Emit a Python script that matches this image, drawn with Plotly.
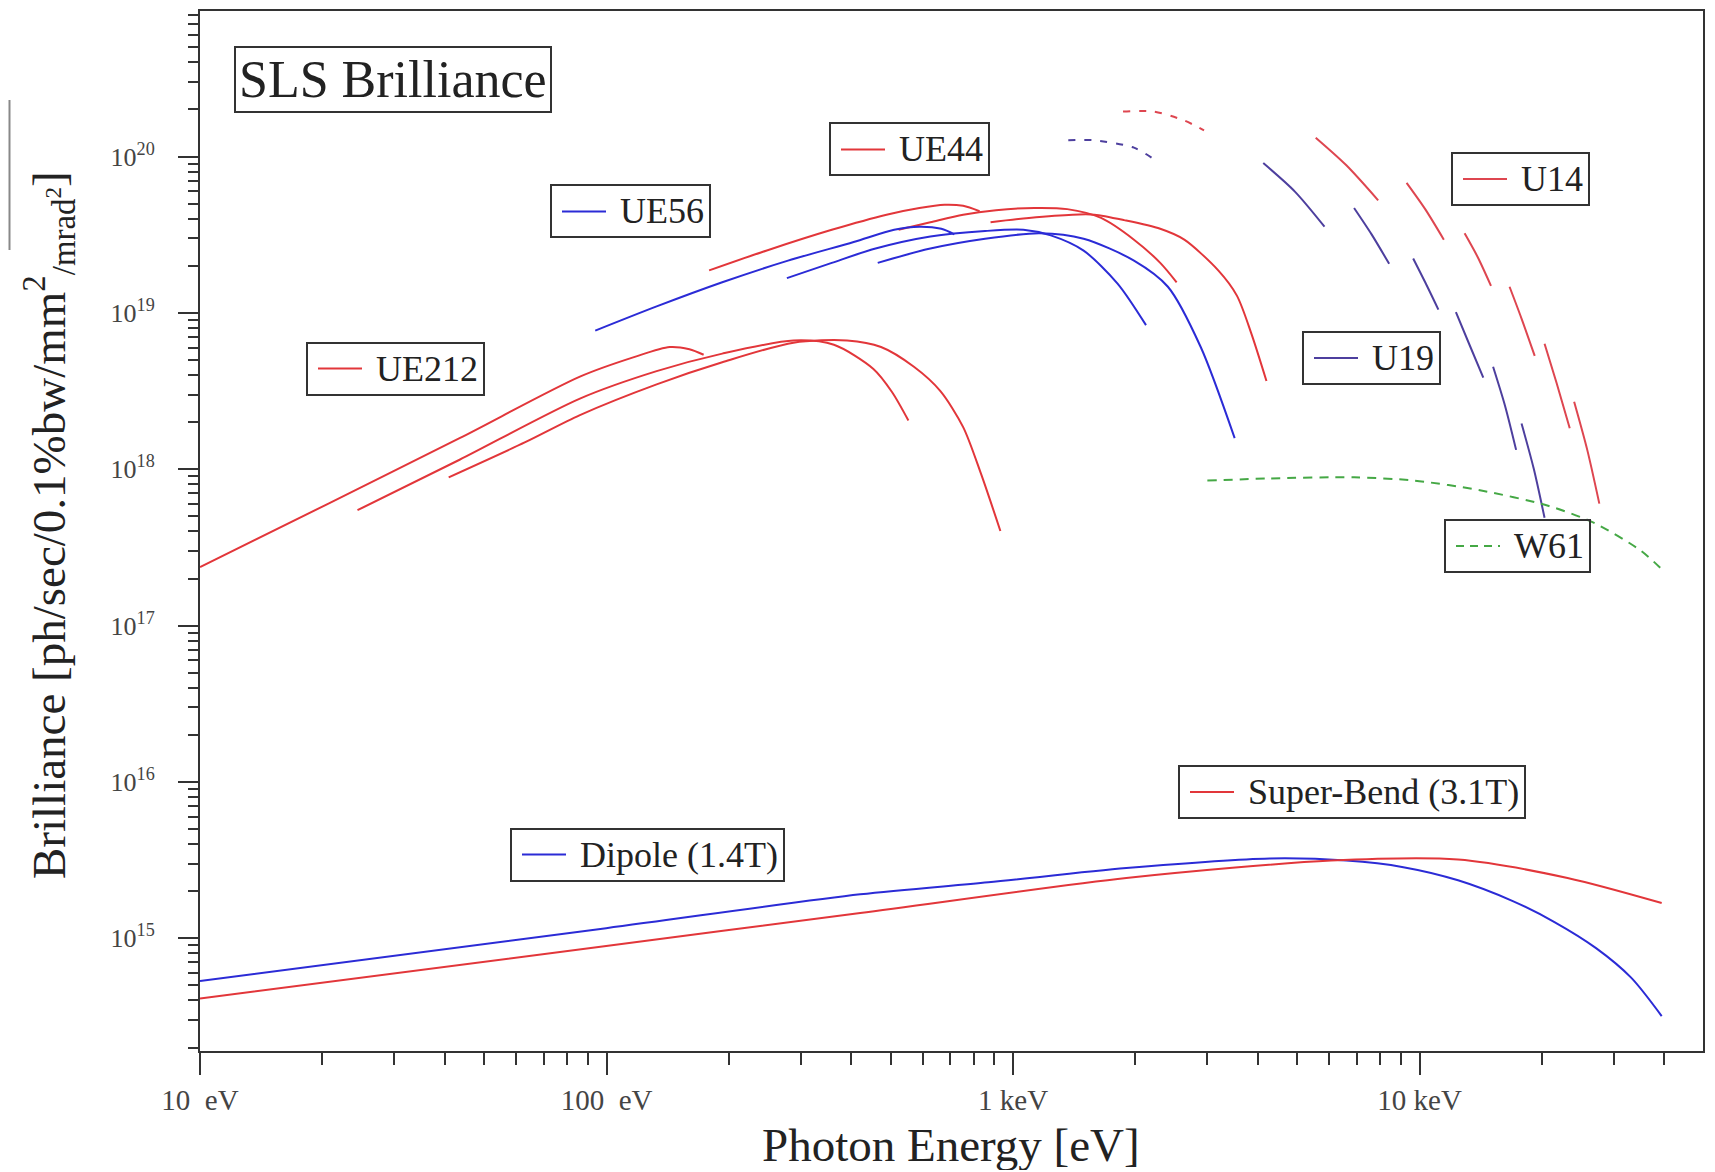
import plotly.graph_objects as go

# ---------------- data: photon energy [eV], brilliance ----------------
# UE212 harmonics (red)
ue212_h1_e = [10, 20.7, 43.5, 86.0, 117.3, 143.0, 159.9, 173.3]
ue212_h1_b = [2.37e17, 6.03e17, 1.58e18, 3.91e18, 5.23e18, 6.05e18, 5.85e18, 5.40e18]
ue212_h3_e = [24.4, 43.5, 86.0, 132.8, 192.6, 288.3, 362.5, 453.3, 503.6, 552.7]
ue212_h3_b = [5.47e17, 1.15e18, 2.83e18, 4.24e18, 5.49e18, 6.66e18, 6.25e18, 4.38e18, 3.12e18, 2.05e18]
ue212_h5_e = [40.9, 63.1, 86.0, 132.8, 192.6, 288.3, 390.6, 473.3, 570.2, 661.8, 753.7, 832.4, 930.6]
ue212_h5_b = [8.88e17, 1.49e18, 2.22e18, 3.49e18, 4.83e18, 6.45e18, 6.66e18, 6.05e18, 4.52e18, 3.17e18, 1.86e18, 9.47e17, 4.03e17]

# UE56 harmonics (blue)
ue56_h1_e = [93.8, 132.8, 192.6, 279.5, 405.4, 509.9, 588.2, 665.9, 717.1]
ue56_h1_b = [7.70e18, 1.10e19, 1.57e19, 2.16e19, 2.84e19, 3.40e19, 3.56e19, 3.45e19, 3.18e19]
ue56_h3_e = [277.7, 358.1, 458.9, 625.9, 853.3, 1060, 1238, 1491, 1807, 2123]
ue56_h3_b = [1.67e19, 2.09e19, 2.58e19, 3.08e19, 3.34e19, 3.40e19, 3.13e19, 2.50e19, 1.54e19, 8.35e18]
ue56_h5_e = [464.6, 625.9, 853.3, 1163, 1491, 1983, 2403, 2894, 3508]
ue56_h5_b = [2.09e19, 2.58e19, 2.98e19, 3.23e19, 2.98e19, 2.16e19, 1.47e19, 6.05e18, 1.58e18]

# UE44 harmonics (red)
ue44_h1_e = [178.8, 246.9, 358.1, 488.3, 588.2, 678.4, 753.7, 827.2]
ue44_h1_b = [1.87e19, 2.50e19, 3.40e19, 4.25e19, 4.69e19, 4.92e19, 4.84e19, 4.47e19]
ue44_h3_e = [522.7, 625.9, 753.7, 907.8, 1128, 1359, 1646, 1983, 2301, 2525]
ue44_h3_b = [3.40e19, 3.80e19, 4.25e19, 4.54e19, 4.69e19, 4.61e19, 4.05e19, 2.94e19, 2.09e19, 1.57e19]
ue44_h5_e = [880.1, 1094, 1401, 1586, 1876, 2301, 2637, 3196, 3552, 3850, 4200]
ue44_h5_b = [3.80e19, 4.05e19, 4.25e19, 4.25e19, 3.92e19, 3.45e19, 2.94e19, 1.87e19, 1.29e19, 7.46e18, 3.67e18]

# U14 (red) and U19 (violet) first harmonics, short dashes at the top
u14_h1_e = [1864, 2217, 2637, 2949]
u14_h1_b = [1.94e20, 1.94e20, 1.70e20, 1.47e20]
u19_h1_e = [1367, 1586, 1983, 2190]
u19_h1_b = [1.27e20, 1.27e20, 1.14e20, 9.84e19]

# U14 higher harmonics (one segment each)
u14_seg_e = [[5551, 6603, 7906], [9288, 10320, 11470], [12900, 13900, 14980],
             [16640, 17810, 19190], [20290, 21730, 23400], [23990, 25840, 27670]]
u14_seg_b = [[1.32e20, 8.79e19, 5.25e19], [6.79e19, 4.61e19, 2.94e19], [3.23e19, 2.27e19, 1.49e19],
             [1.47e19, 9.20e18, 5.31e18], [6.35e18, 3.55e18, 1.83e18], [2.70e18, 1.33e18, 6.03e17]]
# U19 higher harmonics
u19_seg_e = [[4124, 4934, 5834], [6898, 7618, 8414], [9641, 10320, 11120],
             [12280, 13230, 14340], [15160, 16230, 17270], [17810, 19080, 20290]]
u19_seg_b = [[9.08e19, 5.97e19, 3.56e19], [4.69e19, 3.18e19, 2.06e19], [2.23e19, 1.57e19, 1.05e19],
             [1.01e19, 6.35e18, 3.85e18], [4.52e18, 2.53e18, 1.33e18], [1.96e18, 1.01e18, 4.89e17]]

# W61 wiggler (green dashed)
w61_e = [3005, 4279, 6898, 9700, 14170, 20700, 26990, 35030, 39900]
w61_b = [8.46e17, 8.73e17, 8.88e17, 8.46e17, 7.31e17, 5.84e17, 4.51e17, 3.01e17, 2.22e17]

# Dipole (1.4T) and Super-Bend (3.1T)
dipole_e = [10, 99.8, 420.7, 869, 1899, 4279, 6603, 9118, 12430, 16950, 21460, 27160, 33130, 39390]
dipole_b = [5.33e14, 1.16e15, 1.91e15, 2.28e15, 2.81e15, 3.24e15, 3.14e15, 2.85e15, 2.35e15, 1.73e15,
            1.27e15, 8.65e14, 5.60e14, 3.18e14]
superbend_e = [10, 99.8, 420.7, 1899, 6054, 12430, 23110, 39390]
superbend_b = [4.12e14, 8.93e14, 1.45e15, 2.43e15, 3.14e15, 3.19e15, 2.43e15, 1.68e15]

x_tickvals = [10, 100, 1000, 10000]
x_ticktext = ["10\u00a0\u00a0eV", "100\u00a0\u00a0eV", "1 keV", "10 keV"]
y_tickvals = [1e15, 1e16, 1e17, 1e18, 1e19, 1e20]
y_ticktext = ["10<sup>15</sup>", "10<sup>16</sup>", "10<sup>17</sup>", "10<sup>18</sup>",
              "10<sup>19</sup>", "10<sup>20</sup>"]

# ---------------- styling ----------------
RED = "#e2363a"
BLUE = "#2b2bd6"
VIOLET = "#4d3f9e"
RED14 = "#de4650"
GREEN = "#45a845"
FONT = "Liberation Serif, Times New Roman, serif"
LW = 2.0

fig = go.Figure()


def add_line(xs, ys, color, dash="solid", width=LW, shape="spline"):
    fig.add_trace(go.Scatter(x=xs, y=ys, mode="lines",
                             line=dict(color=color, width=width, dash=dash, shape=shape, smoothing=0.8),
                             showlegend=False, hoverinfo="skip"))


for e, b in [(ue212_h1_e, ue212_h1_b), (ue212_h3_e, ue212_h3_b), (ue212_h5_e, ue212_h5_b)]:
    add_line(e, b, RED)
for e, b in [(ue44_h1_e, ue44_h1_b), (ue44_h3_e, ue44_h3_b), (ue44_h5_e, ue44_h5_b)]:
    add_line(e, b, RED)
for e, b in [(ue56_h1_e, ue56_h1_b), (ue56_h3_e, ue56_h3_b), (ue56_h5_e, ue56_h5_b)]:
    add_line(e, b, BLUE)

add_line(u14_h1_e, u14_h1_b, RED14, dash="7px,9px")
add_line(u19_h1_e, u19_h1_b, VIOLET, dash="7px,9px")
for e, b in zip(u14_seg_e, u14_seg_b):
    add_line(e, b, RED14)
for e, b in zip(u19_seg_e, u19_seg_b):
    add_line(e, b, VIOLET)

add_line(w61_e, w61_b, GREEN, dash="9px,7px")
add_line(dipole_e, dipole_b, BLUE)
add_line(superbend_e, superbend_b, RED)

# ---------------- layout ----------------
# page pixel positions of the plot frame (the page body adds an 8px margin)
OFF = 8
L, R, T, B = 200, 1703, 11, 1051
W, H = 1715 - OFF - 2, 1172 - OFF - 2
PW, PH = R - L, B - T


def px(xp):
    return (xp - L) / PW


def py(yp):
    return (B - yp) / PH


x_minor = [m * 10.0 ** k for k in range(1, 5) for m in range(2, 10)]
y_minor = [m * 10.0 ** k for k in range(14, 21) for m in range(2, 10)]

axis_common = dict(showline=True, linecolor="#333", linewidth=2, mirror=True,
                   ticks="outside", tickcolor="#333", tickwidth=2,
                   showgrid=False, zeroline=False)

fig.update_xaxes(type="log", range=[1, 4.697], tickmode="array",
                 tickvals=x_tickvals, ticktext=x_ticktext, ticklen=22,
                 ticklabelstandoff=0,
                 tickfont=dict(family=FONT, size=29, color="#444"),
                 minor=dict(tickmode="array", tickvals=x_minor, ticks="outside",
                            ticklen=12, tickcolor="#333", tickwidth=2),
                 **axis_common)
fig.update_yaxes(type="log", range=[14.279, 20.931], tickmode="array",
                 tickvals=y_tickvals, ticktext=y_ticktext, ticklen=20,
                 ticklabelstandoff=18,
                 tickfont=dict(family=FONT, size=26, color="#444"),
                 minor=dict(tickmode="array", tickvals=y_minor, ticks="outside",
                            ticklen=10, tickcolor="#333", tickwidth=2),
                 **axis_common)

annotations = []
shapes = []

NB = "\u00a0"


def legend_box(left, top, bottom, label, color, dash="solid"):
    cy = (top + bottom) / 2
    annotations.append(dict(
        xref="paper", yref="paper", x=px(left), y=py(cy), xanchor="left", yanchor="middle",
        text=NB * 7 + label,
        showarrow=False, font=dict(family=FONT, size=36, color="#222"),
        bordercolor="#333", borderwidth=2, borderpad=5, bgcolor="rgba(255,255,255,0)"))
    shapes.append(dict(type="line", xref="paper", yref="paper",
                       x0=px(left + 12), x1=px(left + 56), y0=py(cy), y1=py(cy),
                       line=dict(color=color, width=2, dash=dash)))


# label boxes (left, top, bottom in page pixels)
legend_box(829, 126, 173, "UE44", RED)
legend_box(550, 188, 235, "UE56", BLUE)
legend_box(306, 345, 392, "UE212", RED)
legend_box(1451, 155, 203, "U14", RED14)
legend_box(1302, 333, 383, "U19", VIOLET)
legend_box(1444, 522, 570, "W61", GREEN, dash="8px,6px")
legend_box(1178, 768, 816, "Super-Bend (3.1T)", RED)
legend_box(510, 831, 878, "Dipole (1.4T)", BLUE)

annotations.append(dict(
    xref="paper", yref="paper", x=px(393), y=py(79.5), xanchor="center", yanchor="middle",
    text="SLS Brilliance", showarrow=False, font=dict(family=FONT, size=52, color="#222"),
    bordercolor="#333", borderwidth=2, borderpad=3, bgcolor="white"))

annotations.append(dict(
    xref="paper", yref="paper", x=px(950.5), y=py(1145), xanchor="center", yanchor="middle",
    text="Photon Energy [eV]", showarrow=False, font=dict(family=FONT, size=47, color="#222")))

annotations.append(dict(
    xref="paper", yref="paper", x=px(49), y=py(525), xanchor="center", yanchor="middle",
    textangle=-90,
    text="Brilliance [ph/sec/0.1%bw/mm<sup>2</sup><sub>/mrad<sup>2</sup></sub>]",
    showarrow=False, font=dict(family=FONT, size=47, color="#222")))

shapes += [
    dict(type="line", xref="paper", yref="paper", x0=px(9.5), x1=px(9.5), y0=py(100), y1=py(250),
         line=dict(color="#888", width=2)),
]

fig.update_layout(width=W, height=H,
                  margin=dict(l=L - OFF, r=W - (R - OFF), t=T - OFF, b=H - (B - OFF), autoexpand=False),
                  plot_bgcolor="white", paper_bgcolor="white",
                  annotations=annotations, shapes=shapes, showlegend=False,
                  font=dict(family=FONT))

fig.write_html("out.html")
